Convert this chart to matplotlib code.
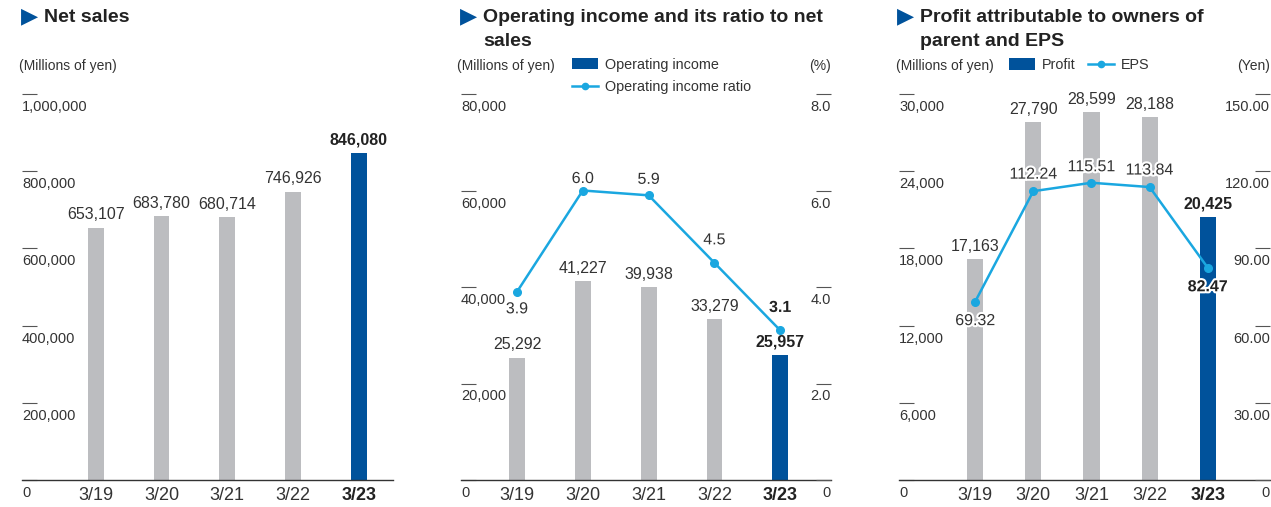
import matplotlib
matplotlib.use("Agg")
import matplotlib.pyplot as plt
import matplotlib.patheffects as pe
from matplotlib.lines import Line2D
from matplotlib.patches import Patch
from matplotlib.transforms import offset_copy

plt.rcParams["font.family"] = ["Liberation Sans", "DejaVu Sans"]

W, H = 1271, 507

years = ["3/19", "3/20", "3/21", "3/22", "3/23"]
net_sales = [653107, 683780, 680714, 746926, 846080]
op_income = [25292, 41227, 39938, 33279, 25957]
op_ratio = [3.9, 6.0, 5.9, 4.5, 3.1]
profit = [17163, 27790, 28599, 28188, 20425]
eps = [69.32, 112.24, 115.51, 113.84, 82.47]

sales_ticks = [0, 200000, 400000, 600000, 800000, 1000000]
op_ticks = [0, 20000, 40000, 60000, 80000]
ratio_ticks = [0, 2.0, 4.0, 6.0, 8.0]
profit_ticks = [0, 6000, 12000, 18000, 24000, 30000]
eps_ticks = [0, 30.0, 60.0, 90.0, 120.0, 150.0]

# label offsets (pixels) for the line points, negative = below the point
ratio_offsets = [-17, 12, 16, 23, 23]
eps_offsets = [-19, 17, 16, 17, -19]

GRAY = "#bcbdc0"
BLUE = "#00529b"
CYAN = "#1aa7e0"
TEXT = "#333333"
DARK = "#222222"

fig = plt.figure(figsize=(W / 100, H / 100), dpi=100)


def ftext(x, y, s, **kw):
    # place text by pixel position (from top-left)
    return fig.text(x / W, 1 - y / H, s, **kw)


def make_axes(left, right, top=94, bottom=480):
    return fig.add_axes([left / W, 1 - bottom / H, (right - left) / W, (bottom - top) / H])


def tick_text(ax, ticks, labels, side="left"):
    trans = offset_copy(ax.get_yaxis_transform(), fig=fig, x=0, y=-13, units="dots")
    x = 0 if side == "left" else 1
    for t, lab in zip(ticks, labels):
        ax.text(x, t, lab, transform=trans, ha=side, va="center",
                fontsize=10.5, color=TEXT, clip_on=False)


def setup(ax, xlim, ymax, ticks, labels):
    ax.set_xlim(*xlim)
    ax.set_ylim(0, ymax)
    for s in ["top", "right", "left"]:
        ax.spines[s].set_visible(False)
    ax.spines["bottom"].set_color("#333333")
    ax.spines["bottom"].set_linewidth(1.0)
    ax.set_yticks(ticks)
    ax.tick_params(axis="y", direction="in", length=10.8, width=0.8,
                   color="#555555", labelleft=False)
    ax.set_xticks(range(len(years)), years)
    ax.tick_params(axis="x", length=0, pad=5, labelsize=13, labelcolor=TEXT)
    ax.get_xticklabels()[-1].set_fontweight("bold")
    ax.get_xticklabels()[-1].set_color(DARK)
    tick_text(ax, ticks, labels, "left")


def twin(ax, ymax, ticks, labels):
    ax2 = ax.twinx()
    ax2.set_ylim(0, ymax)
    for s in ax2.spines.values():
        s.set_visible(False)
    ax2.set_yticks(ticks)
    ax2.tick_params(axis="y", direction="in", length=10.8, width=0.8,
                    color="#555555", labelright=False)
    tick_text(ax2, ticks, labels, "right")
    return ax2


def bars(ax, vals, width):
    x = range(len(vals))
    colors = [GRAY] * (len(vals) - 1) + [BLUE]
    ax.bar(x, vals, width=width, color=colors, zorder=2)
    for i, v in enumerate(vals):
        last = i == len(vals) - 1
        ax.annotate(f"{v:,}", (i, v), xytext=(0, 13), textcoords="offset pixels",
                    ha="center", va="center", fontsize=11.5,
                    fontweight="bold" if last else "normal",
                    color=DARK if last else TEXT, annotation_clip=False)


def line(ax, vals, offsets, fmt):
    x = range(len(vals))
    ax.plot(x, vals, color=CYAN, lw=1.8, marker="o", ms=5.5, zorder=3)
    for i, (v, off) in enumerate(zip(vals, offsets)):
        last = i == len(vals) - 1
        ax.annotate(fmt.format(v), (i, v), xytext=(0, off), textcoords="offset pixels",
                    ha="center", va="center", fontsize=11.5,
                    fontweight="bold" if last else "normal",
                    color=DARK if last else TEXT, annotation_clip=False,
                    path_effects=[pe.withStroke(linewidth=3, foreground="white")])


def title(x, lines):
    ftext(x - 1, 16.5, "\u25B6", color=BLUE, fontsize=16, family="DejaVu Sans",
          ha="left", va="center")
    for k, s in enumerate(lines):
        ftext(x + 22, 18 + 24 * k, s, fontsize=14, fontweight="bold",
              color=DARK, ha="left", va="center")


def legend(handles, labels, x, y, ncol=1):
    return fig.legend(handles, labels, loc="center left",
                      bbox_to_anchor=(x / W, 1 - y / H), ncol=ncol,
                      frameon=False, fontsize=10.4, labelcolor=TEXT,
                      handlelength=1.8, handleheight=0.8, handletextpad=0.5,
                      labelspacing=0.58, columnspacing=0.8,
                      borderpad=0, borderaxespad=0)


bar_handle = Patch(facecolor=BLUE)
line_handle = Line2D([], [], color=CYAN, marker="o", ms=4.5, lw=1.8)

# Net sales
ax1 = make_axes(22, 393)
setup(ax1, (-1.12, 4.52), 1000000, sales_ticks,
      ["0"] + [f"{t:,}" for t in sales_ticks[1:]])
bars(ax1, net_sales, 0.24)
title(22, ["Net sales"])
ftext(19, 66, "(Millions of yen)", fontsize=10, color=TEXT, ha="left", va="center")

# Operating income and ratio
ax2 = make_axes(461, 831)
setup(ax2, (-0.85, 4.77), 80000, op_ticks,
      ["0"] + [f"{t:,}" for t in op_ticks[1:]])
bars(ax2, op_income, 0.24)
ax2r = twin(ax2, 8.0, ratio_ticks, ["0"] + [f"{t:.1f}" for t in ratio_ticks[1:]])
line(ax2r, op_ratio, ratio_offsets, "{:.1f}")
title(461, ["Operating income and its ratio to net", "sales"])
ftext(457, 66, "(Millions of yen)", fontsize=10, color=TEXT, ha="left", va="center")
ftext(831, 66, "(%)", fontsize=10, color=TEXT, ha="right", va="center")
legend([bar_handle, line_handle], ["Operating income", "Operating income ratio"], 572, 76)

# Profit and EPS
ax3 = make_axes(899, 1270)
setup(ax3, (-1.31, 5.07), 30000, profit_ticks,
      ["0"] + [f"{t:,}" for t in profit_ticks[1:]])
bars(ax3, profit, 0.276)
ax3r = twin(ax3, 150.0, eps_ticks, ["0"] + [f"{t:.2f}" for t in eps_ticks[1:]])
line(ax3r, eps, eps_offsets, "{:.2f}")
title(898, ["Profit attributable to owners of", "parent and EPS"])
ftext(896, 66, "(Millions of yen)", fontsize=10, color=TEXT, ha="left", va="center")
ftext(1270, 66, "(Yen)", fontsize=10, color=TEXT, ha="right", va="center")
legend([bar_handle, line_handle], ["Profit", "EPS"], 1009, 65, ncol=2)

fig.savefig("out.png", dpi=100)
